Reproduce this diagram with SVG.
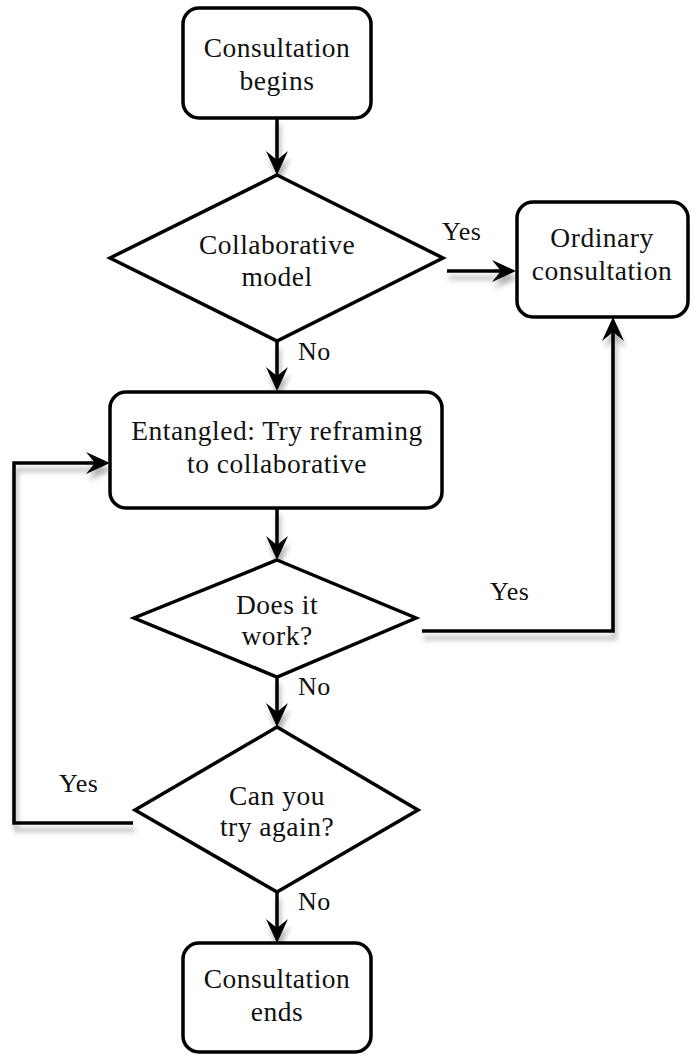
<svg xmlns="http://www.w3.org/2000/svg" width="696" height="1059" viewBox="0 0 696 1059">
<defs>
<style>
.box{fill:#fff;stroke:#000;stroke-width:3.5}
.t{font-family:"Liberation Serif",serif;font-size:27.5px;letter-spacing:0.5px;text-anchor:middle;fill:#111}
.lbl{font-family:"Liberation Serif",serif;font-size:26px;letter-spacing:0.5px;fill:#111}
.c{fill:none;stroke:#000;stroke-width:3.5;marker-end:url(#ah)}
</style>
<marker id="ah" viewBox="0 0 24 24" refX="9" refY="12" markerWidth="24" markerHeight="24" markerUnits="userSpaceOnUse" orient="auto">
<path d="M24,12 L0,1 L9,12 L0,23 Z" fill="#000"/>
</marker>
<filter id="sh" x="-20%" y="-20%" width="140%" height="140%">
<feDropShadow dx="2" dy="7" stdDeviation="2.5" flood-color="#000" flood-opacity="0.3"/>
</filter>
</defs>
<rect width="696" height="1059" fill="#fff"/>
<g id="connectors" filter="url(#sh)">
<path class="c" d="M277,118 V160"/>
<path class="c" d="M447,271 H501"/>
<path class="c" d="M277,342 V376"/>
<path class="c" d="M277,508 V545"/>
<path class="c" d="M422,631 H613 V332"/>
<path class="c" d="M277,677 V712"/>
<path class="c" d="M133,823 H14 V463 H95"/>
<path class="c" d="M277,892 V928"/>
</g>
<g id="n-begin">
<rect class="box" x="183" y="8" width="188" height="110" rx="16"/>
<text class="t" x="277" y="57">Consultation</text>
<text class="t" x="277" y="90">begins</text>
</g>
<g id="n-collab">
<polygon class="box" points="277,175 443,258 277,341 110,258"/>
<text class="t" x="277" y="254">Collaborative</text>
<text class="t" x="277" y="286">model</text>
</g>
<g id="n-ordinary">
<rect class="box" x="517" y="202" width="171" height="115" rx="16"/>
<text class="t" x="602" y="247">Ordinary</text>
<text class="t" x="602" y="280">consultation</text>
</g>
<g id="n-entangled">
<rect class="box" x="110" y="392" width="332" height="116" rx="16"/>
<text class="t" x="277" y="440">Entangled: Try reframing</text>
<text class="t" x="277" y="473">to collaborative</text>
</g>
<g id="n-works">
<polygon class="box" points="277,560 416,618 277,677 134,618"/>
<text class="t" x="277" y="614">Does it</text>
<text class="t" x="277" y="645">work?</text>
</g>
<g id="n-again">
<polygon class="box" points="277,727 418,810 277,892 135,810"/>
<text class="t" x="277" y="805">Can you</text>
<text class="t" x="277" y="836">try again?</text>
</g>
<g id="n-end">
<rect class="box" x="183" y="943" width="188" height="109" rx="16"/>
<text class="t" x="277" y="988">Consultation</text>
<text class="t" x="277" y="1021">ends</text>
</g>
<g id="labels">
<text class="lbl" x="442" y="240">Yes</text>
<text class="lbl" x="298" y="360">No</text>
<text class="lbl" x="490" y="600">Yes</text>
<text class="lbl" x="298" y="695">No</text>
<text class="lbl" x="59" y="792">Yes</text>
<text class="lbl" x="298" y="910">No</text>
</g>
</svg>
